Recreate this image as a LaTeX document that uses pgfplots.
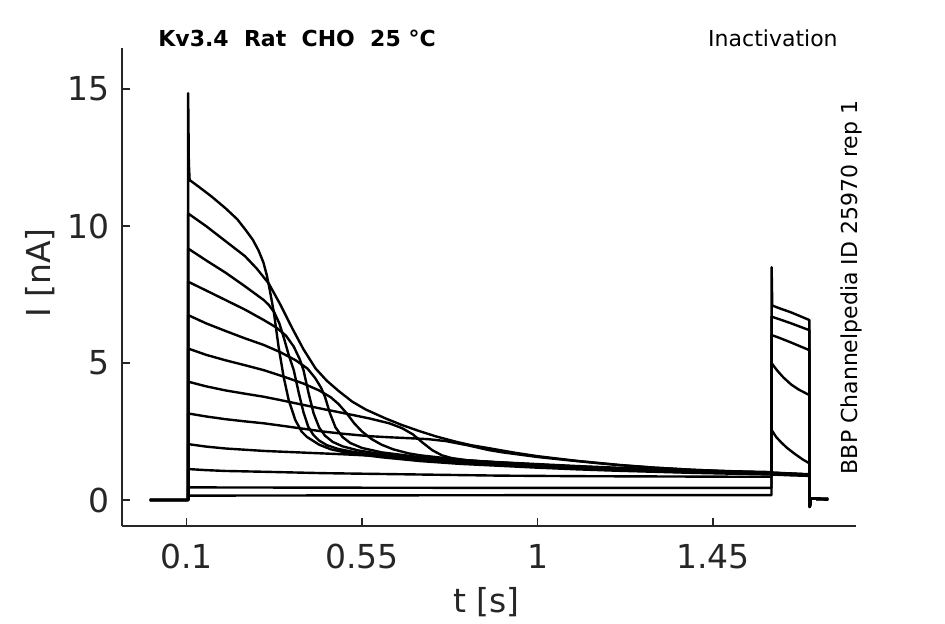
\documentclass[border=0pt]{standalone}
\usepackage{fontspec}
\setmainfont{DejaVu Sans}
\usepackage{pgfplots}
\pgfplotsset{compat=1.18}
\definecolor{axgray}{RGB}{38,38,38}
\begin{document}
\begin{tikzpicture}
\path[use as bounding box] (-61pt,-49pt) rectangle (411.5pt,263pt);
\begin{axis}[
  scale only axis, width=367pt, height=239pt,
  xmin=-0.0654, xmax=1.8167, ymin=-0.949, ymax=16.5,
  axis x line*=bottom, axis y line*=left,
  axis line style={-, axgray, line width=0.6pt},
  tick align=inside, major tick length=4pt,
  tick style={axgray, line width=0.6pt},
  xtick={0.1,0.55,1,1.45}, xticklabels={0.1,0.55,1,1.45},
  ytick={0,5,10,15}, yticklabels={0,5,10,15},
  ticklabel style={font=\fontsize{16.5}{20}\selectfont, text=axgray},
  /pgf/number format/assume math mode=true,
  xticklabel shift=5.5pt, yticklabel shift=2.5pt,
  clip=false,
  trace/.style={black, line width=1.2pt, line join=round, no marks},
]
% A
\addplot[trace] coordinates {(0.006,0) (0.104,0) (0.1042,14.85) (0.106,12.3) (0.108,11.68) (0.13,11.45) (0.165,11.07) (0.2,10.65) (0.23,10.25) (0.251,9.87) (0.27,9.5) (0.285,9.1) (0.297,8.68) (0.306,8.2) (0.315,7.55) (0.324,6.85) (0.336,5.6) (0.349,4.5) (0.362,3.65) (0.379,2.92) (0.395,2.5) (0.409,2.3) (0.44,2.02) (0.47,1.85) (0.5,1.76) (0.55,1.65) (0.6,1.56) (0.7,1.42) (0.8,1.32) (0.9,1.25) (1.0,1.18) (1.1,1.12) (1.2,1.07) (1.3,1.03) (1.4,0.99) (1.5,0.96) (1.6,0.93) (1.65,0.9) (1.697,0.88) (1.698,-0.25) (1.701,0.05) (1.745,0.03)};
% B
\addplot[trace] coordinates {(0.006,0) (0.104,0) (0.1041,10.46) (0.15,10.0) (0.2,9.45) (0.25,8.9) (0.28,8.45) (0.311,7.9) (0.34,7.15) (0.37,6.3) (0.4,5.5) (0.431,4.8) (0.46,4.35) (0.49,3.98) (0.525,3.59) (0.56,3.3) (0.61,2.98) (0.65,2.75) (0.696,2.52) (0.74,2.32) (0.79,2.13) (0.83,2.0) (0.876,1.89) (0.94,1.73) (1.0,1.6) (1.1,1.43) (1.21,1.28) (1.3,1.18) (1.4,1.1) (1.5,1.04) (1.6,1.0) (1.65,0.96) (1.697,0.93) (1.698,-0.25) (1.701,0.05) (1.745,0.03)};
% C
\addplot[trace] coordinates {(0.006,0) (0.104,0) (0.1041,9.18) (0.15,8.75) (0.2,8.3) (0.25,7.8) (0.298,7.3) (0.311,7.12) (0.325,6.85) (0.338,6.45) (0.35,5.9) (0.362,5.3) (0.375,4.74) (0.388,3.9) (0.4,3.2) (0.412,2.68) (0.425,2.38) (0.44,2.17) (0.46,2.0) (0.49,1.86) (0.53,1.75) (0.6,1.61) (0.7,1.47) (0.8,1.37) (0.9,1.29) (1.0,1.22) (1.1,1.16) (1.2,1.1) (1.3,1.05) (1.4,1.01) (1.5,0.98) (1.6,0.95) (1.65,0.92) (1.697,0.9) (1.698,-0.25) (1.701,0.05) (1.745,0.03)};
% D
\addplot[trace] coordinates {(0.006,0) (0.104,0) (0.1041,7.97) (0.15,7.65) (0.2,7.3) (0.25,6.95) (0.298,6.57) (0.33,6.3) (0.355,6.0) (0.375,5.6) (0.39,5.15) (0.40,4.74) (0.413,3.9) (0.426,3.16) (0.44,2.65) (0.455,2.35) (0.475,2.12) (0.5,1.96) (0.54,1.81) (0.6,1.67) (0.7,1.51) (0.8,1.4) (0.9,1.32) (1.0,1.25) (1.1,1.18) (1.2,1.12) (1.3,1.07) (1.4,1.03) (1.5,0.99) (1.6,0.96) (1.65,0.93) (1.697,0.91) (1.698,-0.25) (1.701,0.05) (1.745,0.03)};
% E
\addplot[trace] coordinates {(0.006,0) (0.104,0) (0.1041,6.75) (0.15,6.45) (0.2,6.17) (0.25,5.9) (0.298,5.66) (0.34,5.4) (0.38,5.1) (0.41,4.8) (0.43,4.45) (0.445,4.1) (0.455,3.77) (0.468,3.16) (0.482,2.65) (0.5,2.3) (0.52,2.08) (0.55,1.9) (0.6,1.74) (0.7,1.56) (0.8,1.43) (0.9,1.34) (1.0,1.27) (1.1,1.2) (1.2,1.14) (1.3,1.09) (1.4,1.05) (1.5,1.01) (1.6,0.98) (1.65,0.95) (1.697,0.92) (1.698,-0.25) (1.701,0.05) (1.745,0.03)};
% F
\addplot[trace] coordinates {(0.006,0) (0.104,0) (0.1041,5.53) (0.15,5.3) (0.2,5.1) (0.25,4.92) (0.298,4.74) (0.35,4.5) (0.4,4.25) (0.44,4.0) (0.47,3.75) (0.49,3.5) (0.511,3.16) (0.53,2.8) (0.55,2.5) (0.575,2.22) (0.6,2.02) (0.63,1.85) (0.67,1.7) (0.7,1.63) (0.8,1.47) (0.9,1.37) (1.0,1.29) (1.1,1.22) (1.2,1.16) (1.3,1.11) (1.4,1.06) (1.5,1.02) (1.6,0.99) (1.65,0.96) (1.697,0.93) (1.698,-0.25) (1.701,0.05) (1.745,0.03)};
% G
\addplot[trace] coordinates {(0.006,0) (0.104,0) (0.1041,4.32) (0.15,4.15) (0.2,4.0) (0.25,3.88) (0.298,3.77) (0.35,3.62) (0.4,3.47) (0.45,3.32) (0.5,3.18) (0.568,2.98) (0.62,2.8) (0.653,2.62) (0.68,2.4) (0.705,2.1) (0.73,1.82) (0.755,1.63) (0.78,1.53) (0.82,1.45) (0.9,1.37) (1.0,1.29) (1.1,1.22) (1.2,1.16) (1.3,1.11) (1.4,1.07) (1.5,1.03) (1.6,1.0) (1.65,0.97) (1.697,0.94) (1.698,-0.25) (1.701,0.05) (1.745,0.03)};
% H
\addplot[trace] coordinates {(0.006,0) (0.104,0) (0.1041,3.16) (0.15,3.05) (0.2,2.95) (0.25,2.87) (0.298,2.8) (0.35,2.7) (0.4,2.6) (0.45,2.5) (0.5,2.42) (0.568,2.33) (0.62,2.29) (0.68,2.25) (0.72,2.22) (0.765,2.15) (0.82,2.0) (0.876,1.82) (0.91,1.74) (1.0,1.57) (1.08,1.45) (1.15,1.35) (1.21,1.27) (1.3,1.18) (1.4,1.1) (1.5,1.05) (1.6,1.02) (1.6005,2.55) (1.612,2.3) (1.625,2.1) (1.64,1.9) (1.66,1.68) (1.68,1.48) (1.697,1.34) (1.698,-0.25) (1.701,0.05) (1.745,0.03)};
% I
\addplot[trace] coordinates {(0.006,0) (0.104,0) (0.1041,2.04) (0.15,1.95) (0.2,1.88) (0.3,1.79) (0.4,1.73) (0.5,1.67) (0.6,1.6) (0.7,1.52) (0.8,1.45) (0.9,1.38) (1.0,1.31) (1.1,1.24) (1.2,1.18) (1.3,1.12) (1.4,1.07) (1.5,1.03) (1.6,1.0) (1.6005,4.99) (1.615,4.72) (1.63,4.48) (1.65,4.22) (1.67,4.03) (1.697,3.83) (1.698,-0.25) (1.701,0.05) (1.745,0.03)};
% J
\addplot[trace] coordinates {(0.006,0) (0.104,0) (0.1041,1.13) (0.15,1.09) (0.2,1.06) (0.3,1.03) (0.45,0.98) (0.6,0.95) (0.75,0.92) (0.9,0.89) (1.1,0.87) (1.3,0.86) (1.5,0.85) (1.6,0.85) (1.6005,6.02) (1.62,5.92) (1.65,5.75) (1.697,5.47) (1.698,-0.25) (1.701,0.05) (1.745,0.03)};
% K
\addplot[trace] coordinates {(0.006,0) (0.104,0) (0.1041,0.46) (0.5,0.45) (1.0,0.44) (1.6,0.44) (1.6005,6.69) (1.62,6.6) (1.65,6.45) (1.697,6.2) (1.698,-0.25) (1.701,0.05) (1.745,0.03)};
% L
\addplot[trace] coordinates {(0.006,0) (0.104,0) (0.1041,0.16) (0.6,0.17) (1.2,0.18) (1.6,0.18) (1.6003,8.5) (1.602,7.1) (1.62,7.0) (1.65,6.85) (1.697,6.57) (1.698,-0.25) (1.701,0.05) (1.745,0.03)};

\node[anchor=base, inner sep=0, text=axgray, font=\fontsize{16.5}{20}\selectfont] at (rel axis cs:0.4966,-0.18) {t [s]};
\node[anchor=center, rotate=90, inner sep=0, text=axgray, font=\fontsize{16.5}{20}\selectfont] at (rel axis cs:-0.1117,0.529) {I [nA]};
\node[anchor=base west, inner sep=0, font=\fontsize{11}{13}\selectfont\bfseries] at (rel axis cs:0.049,1.0027) {Kv3.4\ \ Rat\ \ CHO\ \ 25~°C};
\node[anchor=base east, inner sep=0, font=\fontsize{11}{13}\selectfont] at (rel axis cs:0.9755,1.0027) {Inactivation};
\node[anchor=base, rotate=90, inner sep=0, font=\fontsize{11}{13}\selectfont] at (rel axis cs:1.0023,0.499) {BBP Channelpedia ID 25970 rep 1};
\end{axis}
\end{tikzpicture}
\end{document}
